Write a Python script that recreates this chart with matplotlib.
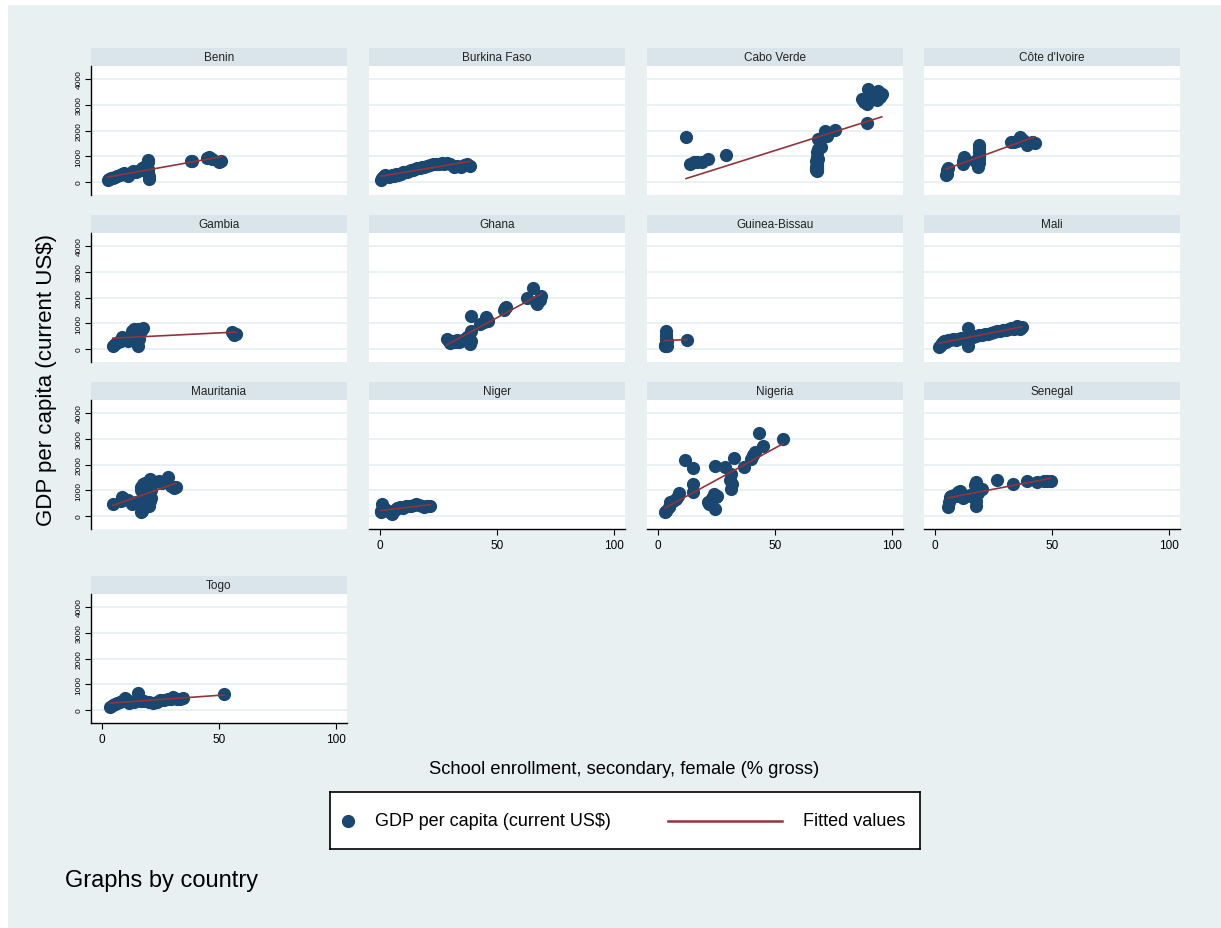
import numpy as np
import matplotlib.pyplot as plt
from matplotlib.patches import Rectangle
from matplotlib.lines import Line2D

plt.rcParams['font.family'] = ['Liberation Sans', 'DejaVu Sans']

# Enrollment (x) and GDP per capita (y) for each country
benin_x = [2.5, 3.2, 4.0, 4.8, 5.5, 6.5, 7.5, 8.5, 9.3, 10.5, 11.3, 12.5, 13.4, 14.5, 15.5, 16.5,
           17.2, 18.0, 19.2, 19.6, 19.8, 19.9, 20.0, 19.7, 19.5, 38.0, 38.5, 45.0, 45.8, 46.8, 50.2, 51.0]
benin_y = [90, 110, 140, 170, 190, 230, 260, 300, 360, 280, 220, 340, 420, 400, 430, 460,
           540, 600, 680, 780, 870, 120, 240, 380, 520, 830, 800, 950, 980, 900, 790, 800]

burkina_x = [0.5, 1.0, 1.5, 2.2, 3.0, 3.8, 4.5, 5.3, 6.0, 6.8, 7.5, 8.3, 9.0, 9.8, 10.6, 11.5, 12.4,
             13.3, 14.2, 15.1, 16.0, 17.0, 18.0, 19.0, 20.2, 21.5, 22.8, 24.0, 25.3, 26.5, 27.5, 28.5,
             30.0, 31.5, 33.0, 34.5, 36.0, 37.3, 38.3]
burkina_y = [90, 170, 230, 260, 250, 210, 230, 260, 240, 300, 280, 320, 330, 370, 380, 400, 430,
             450, 470, 500, 540, 560, 590, 600, 640, 660, 680, 690, 700, 720, 700, 730,
             700, 590, 620, 600, 650, 680, 640]

cabo_x = [12.0, 13.7, 15.2, 16.5, 18.7, 21.5, 29.1, 67.8, 67.8, 67.7, 67.8, 67.9, 67.6, 67.9, 68.0,
          67.5, 68.1, 67.7, 68.3, 68.0,
          68.5, 69.5, 68.2, 70.5, 71.4, 72.1, 75.6, 89.2, 87.1, 88.0, 89.2, 89.9, 90.8, 91.9, 92.6,
          93.6, 94.2, 94.9, 95.6]
cabo_y = [1735, 700, 760, 790, 760, 890, 1060, 440, 500, 560, 630, 700, 820, 960, 1150,
          480, 540, 600, 900, 760,
          1280, 1345, 1670, 1735, 1990, 1800, 2030, 2290, 3220, 3120, 3030, 3610, 3350, 3240, 3450,
          3170, 3550, 3300, 3430]

civ_x = [4.8, 5.0, 5.3, 5.7, 11.8, 12.1, 12.4, 16.9, 18.5, 18.7, 18.8, 18.9, 19.0, 18.8, 18.6,
         32.5, 33.8, 35.0, 36.3, 37.5, 39.2, 41.5, 42.7]
civ_y = [280, 330, 450, 540, 700, 800, 960, 830, 600, 740, 880, 1020, 1170, 1320, 1450,
         1565, 1540, 1600, 1735, 1620, 1437, 1540, 1520]

gambia_x = [4.6, 5.5, 7.0, 8.0, 8.7, 9.5, 11.1, 12.0, 12.7, 13.5, 14.5, 14.8, 15.2, 15.2, 16.0,
            16.8, 17.6, 55.6, 56.1, 56.6, 57.2]
gambia_y = [130, 180, 260, 330, 450, 400, 320, 380, 710, 760, 640, 520, 780, 130, 400,
            700, 800, 660, 620, 560, 580]

ghana_x = [28.5, 29.3, 30.0, 31.0, 32.0, 33.0, 33.8, 34.6, 35.5, 36.5, 37.3, 38.0, 38.7, 38.5, 39.1,
           38.8, 42.8, 44.5, 45.3, 46.3, 53.0, 53.4, 54.0, 62.7, 65.3, 66.8, 67.3, 68.3, 68.8]
ghana_y = [380, 300, 250, 330, 270, 360, 280, 300, 340, 400, 450, 520, 300, 180, 680,
           1290, 980, 1040, 1230, 1100, 1500, 1580, 1650, 1970, 2370, 1810, 1740, 1900, 2050]

gbissau_x = [2.8, 3.2, 3.5, 3.5, 3.6, 3.4, 3.8, 4.0, 12.4]
gbissau_y = [150, 120, 250, 400, 550, 700, 330, 130, 360]

mali_x = [1.8, 2.5, 3.0, 3.7, 4.5, 5.5, 6.5, 7.8, 9.0, 10.0, 11.2, 12.3, 13.2, 14.1, 14.1, 15.0,
          16.2, 17.5, 18.9, 20.2, 21.5, 22.8, 24.0, 25.3, 26.5, 27.8, 29.2, 30.5, 31.6, 32.6, 33.8,
          35.1, 36.3, 37.2]
mali_y = [90, 150, 230, 320, 290, 340, 360, 390, 340, 380, 420, 400, 440, 810, 130, 460,
          480, 500, 540, 560, 580, 600, 620, 650, 700, 690, 720, 720, 760, 800, 780,
          900, 780, 840]

mauritania_x = [4.6, 8.0, 8.7, 9.5, 11.0, 12.7, 14.5, 16.0, 16.8, 16.8, 17.2, 16.5, 17.5, 18.5, 19.5,
                20.1, 20.9, 20.6, 20.4, 21.0, 24.2, 25.5, 28.3, 29.5, 30.8, 31.6]
mauritania_y = [465, 600, 725, 660, 610, 465, 560, 595, 140, 1115, 205, 1000, 1245, 1300, 800,
                400, 1000, 1435, 600, 700, 1370, 1300, 1500, 1150, 1100, 1115]

niger_x = [0.3, 0.5, 0.8, 1.5, 2.5, 3.5, 4.5, 5.2, 6.2, 7.2, 8.7, 9.8, 11.0, 12.2, 13.2, 14.5,
           15.5, 16.5, 17.8, 19.0, 20.2, 21.5]
niger_y = [140, 200, 465, 300, 250, 180, 100, 75, 220, 300, 335, 320, 370, 390, 400, 420,
           450, 425, 380, 360, 390, 400]

nigeria_x = [3.0, 3.5, 4.5, 5.3, 6.5, 7.6, 8.5, 9.1, 11.4, 14.9, 14.9, 14.9, 21.3, 22.0, 23.0, 24.4,
             24.0, 24.8, 25.3, 24.4, 28.7, 31.2, 32.3, 31.2, 31.6, 30.8, 36.6, 39.6, 40.5, 41.5,
             43.1, 44.9, 53.4]
nigeria_y = [140, 210, 335, 530, 580, 660, 760, 895, 2175, 1850, 1240, 920, 530, 465, 700, 270,
             855, 725, 790, 1955, 1890, 1630, 2250, 1050, 1240, 1400, 1915, 2215, 2350, 2475,
             3210, 2730, 2990]

senegal_x = [5.5, 6.0, 6.4, 7.0, 8.0, 9.0, 10.0, 10.5, 11.0, 12.0, 13.5, 15.0, 16.5, 17.4, 17.4,
             17.4, 17.4, 17.0, 18.5, 20.1, 26.5, 33.4, 39.5, 43.8, 46.6, 48.0, 49.5]
senegal_y = [335, 550, 725, 790, 830, 760, 920, 985, 870, 700, 780, 820, 850, 1310, 1050,
             400, 595, 1200, 900, 1050, 1400, 1245, 1370, 1310, 1370, 1340, 1370]

togo_x = [3.4, 4.5, 5.5, 6.5, 7.5, 8.5, 9.8, 10.5, 11.5, 12.5, 13.5, 14.5, 15.5, 16.5, 18.0, 20.0,
          21.9, 23.5, 25.0, 26.5, 28.0, 29.5, 30.5, 32.0, 33.5, 34.8, 52.3]
togo_y = [130, 190, 240, 270, 300, 340, 460, 400, 290, 330, 320, 360, 660, 340, 350, 320,
          280, 320, 370, 400, 420, 440, 490, 440, 420, 450, 620]

countries = ["Benin", "Burkina Faso", "Cabo Verde", "Côte d'Ivoire",
             "Gambia", "Ghana", "Guinea-Bissau", "Mali",
             "Mauritania", "Niger", "Nigeria", "Senegal", "Togo"]
series = [(benin_x, benin_y), (burkina_x, burkina_y), (cabo_x, cabo_y), (civ_x, civ_y),
          (gambia_x, gambia_y), (ghana_x, ghana_y), (gbissau_x, gbissau_y), (mali_x, mali_y),
          (mauritania_x, mauritania_y), (niger_x, niger_y), (nigeria_x, nigeria_y),
          (senegal_x, senegal_y), (togo_x, togo_y)]

y_ticks = [0, 1000, 2000, 3000, 4000]
x_ticks = [0, 50, 100]

# colours (Stata s2color look)
bg = '#e8f0f2'
strip = '#d9e5ea'
navy = '#1a476f'
maroon = '#90353b'

W, H = 1221, 929
fig = plt.figure(figsize=(W / 100, H / 100), dpi=100, facecolor='white')
fig.patches.append(Rectangle((8 / W, 0), 1 - 8 / W, 1 - 6 / H, transform=fig.transFigure,
                             facecolor=bg, edgecolor='none', zorder=-10))

col_left = [91, 369, 647, 924]
row_top = [67, 234, 401, 595]
pw, ph = 256, 129
strip_h = 18

for i, (name, (xs, ys)) in enumerate(zip(countries, series)):
    r, c = divmod(i, 4)
    ax = fig.add_axes([col_left[c] / W, 1 - (row_top[r] + ph) / H, pw / W, ph / H])
    ax.set_facecolor('white')
    ax.set_xlim(-4.7, 104.7)
    ax.set_ylim(-505, 4505)
    for yv in y_ticks:
        ax.axhline(yv, color=bg, lw=1.3, zorder=1)

    xs = np.array(xs)
    ys = np.array(ys)
    ax.plot(xs, ys, 'o', ms=9.5, color=navy, mew=0, zorder=3)
    b, a = np.polyfit(xs, ys, 1)
    xf = np.array([xs.min(), xs.max()])
    ax.plot(xf, a + b * xf, color=maroon, lw=1.2, zorder=4)

    # strip title
    ax.add_patch(Rectangle((0, 1), 1, strip_h / ph, transform=ax.transAxes,
                           facecolor=strip, edgecolor='none', clip_on=False))
    ax.text(0.5, 1 + strip_h / ph / 2, name, transform=ax.transAxes,
            ha='center', va='center', fontsize=8.5, color='#222222')

    for s in ax.spines.values():
        s.set_visible(False)

    left_col = c == 0
    bottom = (i + 4) >= len(countries)
    if left_col:
        ax.spines['left'].set_visible(True)
        ax.spines['left'].set_linewidth(1.0)
        ax.set_yticks(y_ticks)
        ax.tick_params(axis='y', length=4, width=0.8, labelsize=6, pad=2)
        for lab in ax.get_yticklabels():
            lab.set_rotation(90)
            lab.set_va('center')
    else:
        ax.set_yticks([])
    if bottom:
        ax.spines['bottom'].set_visible(True)
        ax.spines['bottom'].set_linewidth(1.0)
        ax.set_xticks(x_ticks)
        ax.tick_params(axis='x', length=4, width=0.8, labelsize=8.5, pad=3)
    else:
        ax.set_xticks([])

fig.text(47 / W, 1 - 380 / H, "GDP per capita (current US$)", rotation=90,
         ha='center', va='center', fontsize=16)
fig.text(624 / W, 1 - 770 / H, "School enrollment, secondary, female (% gross)",
         ha='center', va='center', fontsize=13.2)
fig.text(65 / W, 1 - 881 / H, "Graphs by country", ha='left', va='center', fontsize=17)

# legend box
lx, ly, lw_, lh = 330, 793, 590, 57
lax = fig.add_axes([lx / W, 1 - (ly + lh) / H, lw_ / W, lh / H])
lax.set_xlim(0, lw_)
lax.set_ylim(0, lh)
lax.set_xticks([])
lax.set_yticks([])
lax.set_facecolor('white')
for s in lax.spines.values():
    s.set_linewidth(1.2)
    s.set_color('black')
lax.add_line(Line2D([18], [lh / 2], marker='o', ms=9.5, color=navy, mew=0, ls='none'))
lax.text(45, lh / 2, "GDP per capita (current US$)", ha='left', va='center', fontsize=13)
lax.add_line(Line2D([338, 452], [lh / 2, lh / 2], color=maroon, lw=1.8))
lax.text(575, lh / 2, "Fitted values", ha='right', va='center', fontsize=13)

fig.savefig('out.png', dpi=100, facecolor=fig.get_facecolor())
